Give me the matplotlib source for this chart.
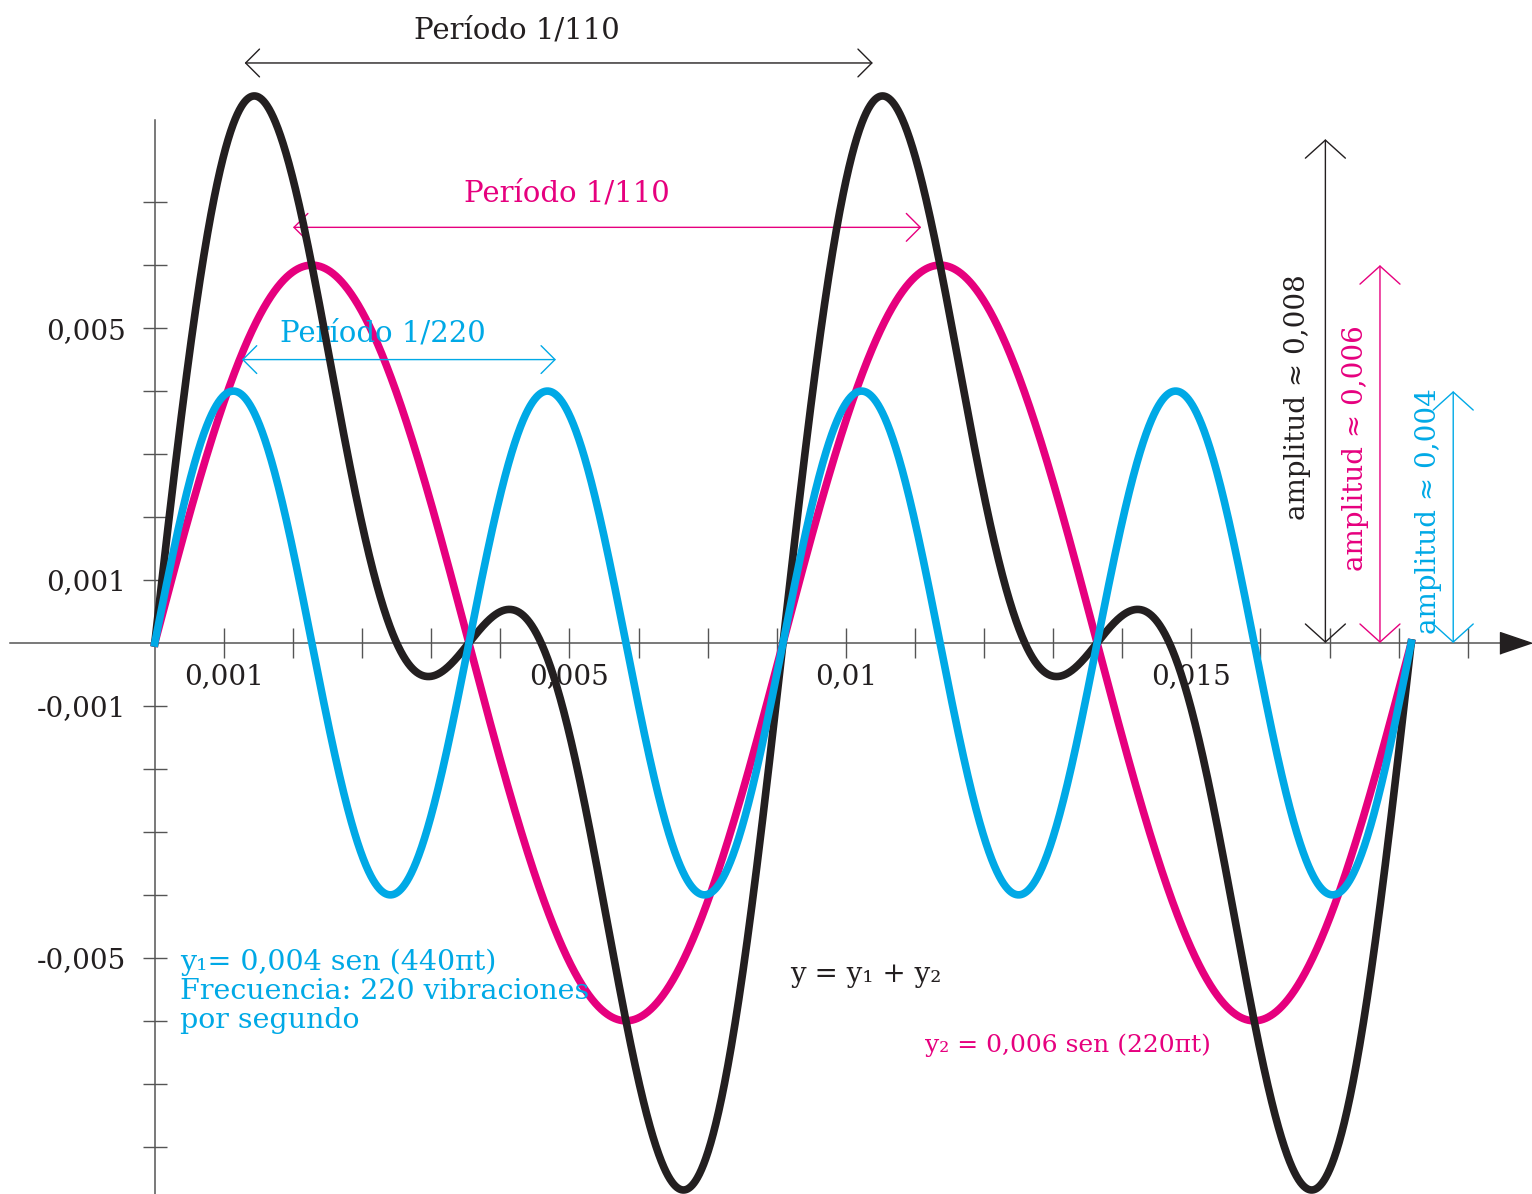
import numpy as np
import matplotlib.pyplot as plt

# y1 = 0,004 sen(440πt)  and  y2 = 0,006 sen(220πt)
amp_y1 = 0.004
amp_y2 = 0.006
freq_y1 = 220          # vibraciones por segundo
freq_y2 = 110
t_end = 2 / freq_y2    # two periods of y2

# amplitude arrows: black (sum), magenta (y2), cyan (y1)
amp_marks = [0.008, 0.006, 0.004]
amp_texts = ['amplitud ≈ 0,008', 'amplitud ≈ 0,006', 'amplitud ≈ 0,004']

x_tick_pos = [k / 1000 for k in range(1, 20)]
x_label_pos = [0.001, 0.006, 0.010, 0.015]
x_label_text = ['0,001', '0,005', '0,01', '0,015']

y_tick_pos = [k / 1000 for k in range(-8, 8) if k != 0]
y_label_pos = [0.005, 0.001, -0.001, -0.005]
y_label_text = ['0,005', '0,001', '-0,001', '-0,005']

BLACK = '#231f20'
MAGENTA = '#e6007e'
CYAN = '#00a9e6'
AXIS = '#555555'

plt.rcParams['font.family'] = ['DejaVu Serif', 'DejaVu Sans']

t = np.linspace(0, t_end, 3000)
y1 = amp_y1 * np.sin(2 * np.pi * freq_y1 * t)
y2 = amp_y2 * np.sin(2 * np.pi * freq_y2 * t)
y = y1 + y2

fig = plt.figure(figsize=(15.32, 11.94), dpi=100)
ax = fig.add_axes([0, 0, 1, 1])
ax.set_xlim(-0.00224, 0.01993)
ax.set_ylim(-0.00875, 0.01021)
ax.patch.set_alpha(0)

for side in ['top', 'right']:
    ax.spines[side].set_visible(False)
ax.spines['left'].set_position(('data', 0))
ax.spines['bottom'].set_position(('data', 0))
ax.spines['left'].set_bounds(-0.00875, 0.0083)
ax.spines['bottom'].set_bounds(-0.0021, 0.0195)
for side in ['left', 'bottom']:
    ax.spines[side].set_color(AXIS)
    ax.spines[side].set_linewidth(1.1)

# arrow tip on the time axis
ax.plot([0.0197], [0], marker=[(-1, -0.68), (-1, 0.68), (1, 0)], ms=23,
        color=BLACK, clip_on=False, zorder=6)


def tick_labels(ticks, pos, text):
    return [text[pos.index(v)] if v in pos else '' for v in ticks]


ax.set_xticks(x_tick_pos, tick_labels(x_tick_pos, x_label_pos, x_label_text))
ax.set_yticks(y_tick_pos, tick_labels(y_tick_pos, y_label_pos, y_label_text))
ax.tick_params(axis='x', direction='inout', length=21, width=1, color=AXIS,
               pad=4, labelsize=20, labelcolor=BLACK)
ax.tick_params(axis='y', direction='inout', length=17, width=1, color=AXIS,
               pad=12, labelsize=20, labelcolor=BLACK)

# curves
ax.plot(t, y2, color=MAGENTA, lw=5.5, zorder=3)
ax.plot(t, y, color=BLACK, lw=5.5, zorder=4)
ax.plot(t, y1, color=CYAN, lw=5.5, zorder=5)


def span_arrow(x0, y0, x1, y1, color, hl, hw):
    ax.annotate('', xy=(x1, y1), xytext=(x0, y0),
                arrowprops=dict(arrowstyle=f'<->,head_length={hl},head_width={hw}',
                                color=color, lw=1, shrinkA=0, shrinkB=0,
                                mutation_scale=20))


# periods
span_arrow(0.0013, 0.00921, 0.0013 + 1 / freq_y2, 0.00921, BLACK, 0.5, 0.5)
ax.text(0.00524, 0.00973, 'Período 1/110', color=BLACK, fontsize=21,
        ha='center', va='center')
span_arrow(0.0020, 0.0066, 0.0020 + 1 / freq_y2, 0.0066, MAGENTA, 0.5, 0.5)
ax.text(0.00596, 0.00714, 'Período 1/110', color=MAGENTA, fontsize=21,
        ha='center', va='center')
span_arrow(0.00126, 0.0045, 0.00126 + 1 / freq_y1, 0.0045, CYAN, 0.5, 0.5)
ax.text(0.0033, 0.00492, 'Período 1/220', color=CYAN, fontsize=21,
        ha='center', va='center')

# amplitudes
amp_x = [0.01694, 0.01773, 0.01879]
amp_text_x = [0.01653, 0.01737, 0.01843]
amp_text_y = [0.0039, 0.0031, 0.0021]
for a, txt, xa, xt, yt, c in zip(amp_marks, amp_texts, amp_x, amp_text_x,
                                  amp_text_y, [BLACK, MAGENTA, CYAN]):
    span_arrow(xa, 0, xa, a, c, 0.65, 0.72)
    ax.text(xt, yt, txt, color=c, fontsize=20, rotation=90,
            ha='center', va='center')

# formulas
ax.text(0.00036, -0.00486, 'y₁= 0,004 sen (440πt)\nFrecuencia: 220 vibraciones\npor segundo',
        color=CYAN, fontsize=20.5, ha='left', va='top', linespacing=1.08)
ax.text(0.00919, -0.00527, 'y = y₁ + y₂', color=BLACK, fontsize=20,
        ha='left', va='center')
ax.text(0.01115, -0.00638, 'y₂ = 0,006 sen (220πt)', color=MAGENTA,
        fontsize=18, ha='left', va='center')

fig.savefig('out.png', dpi=100)
